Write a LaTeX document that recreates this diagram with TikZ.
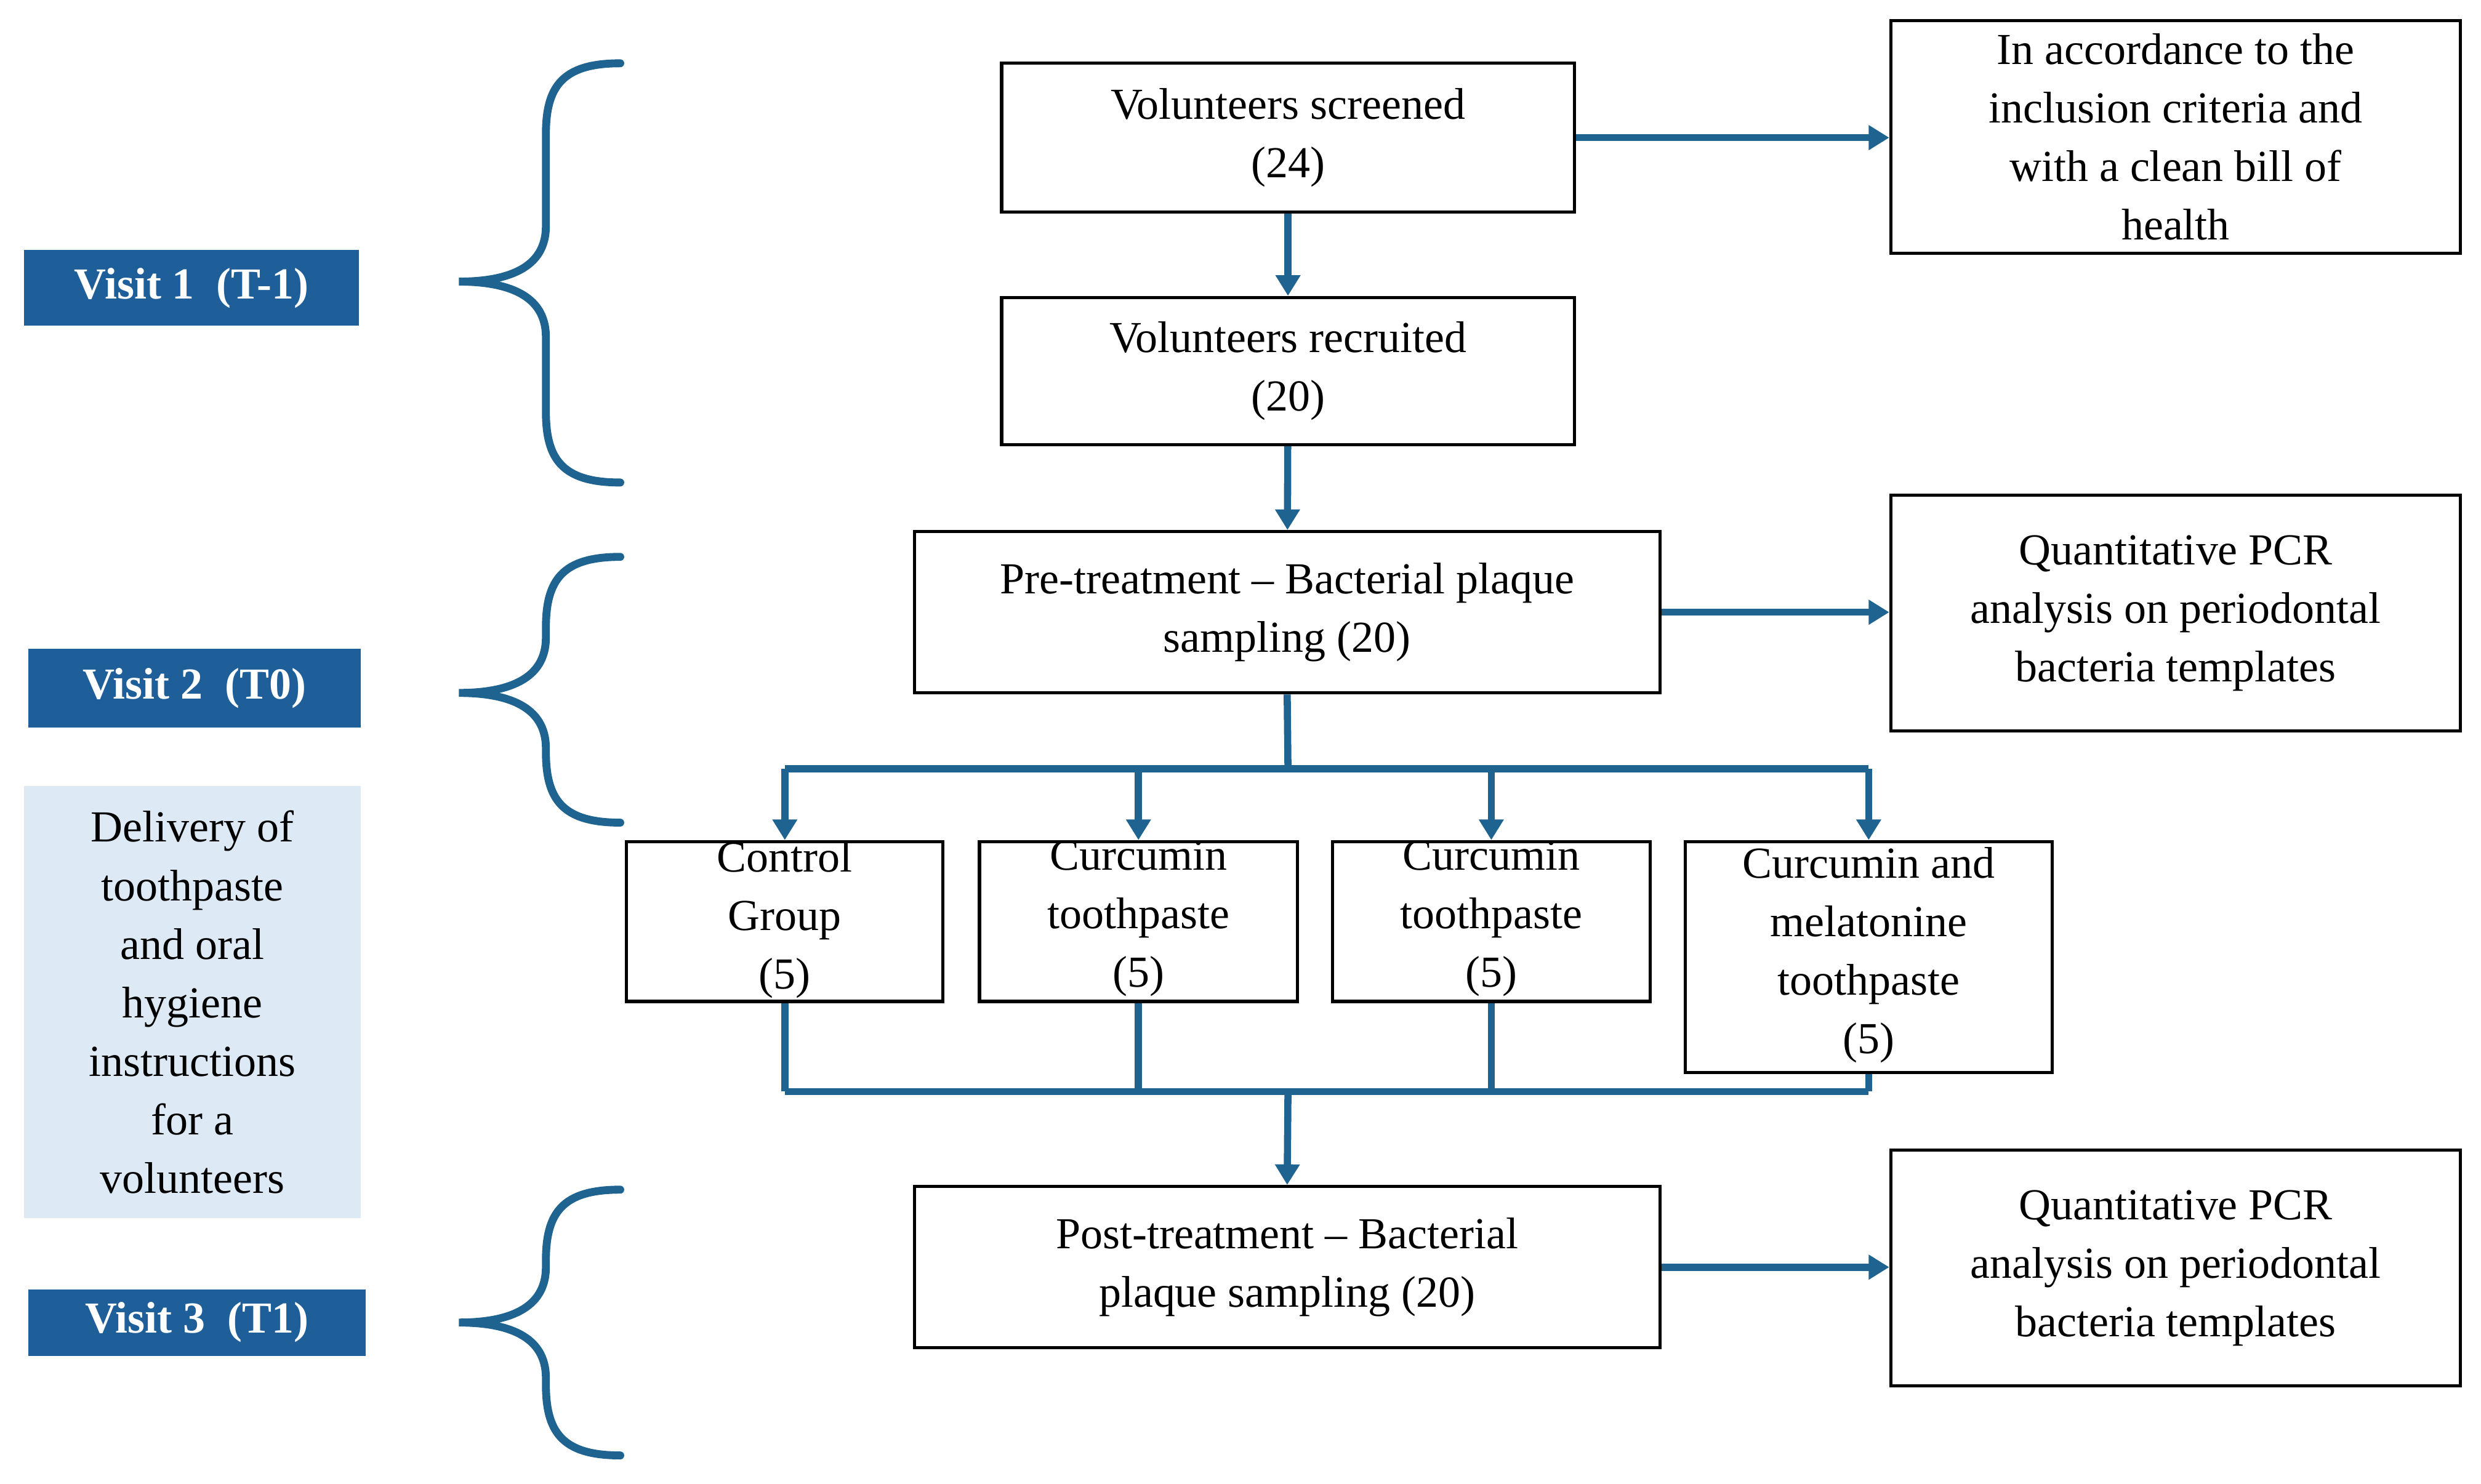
\documentclass[tikz,border=0pt]{standalone}
\usepackage{fontspec}
\setmainfont{Liberation Serif}
\usetikzlibrary{arrows.meta}
\definecolor{dblue}{HTML}{1F5F99}
\definecolor{lblue}{HTML}{DDE9F5}
\definecolor{lineb}{HTML}{1F6391}
\begin{document}
\begin{tikzpicture}[x=1pt,y=-1pt,
  txt/.style={font=\fontsize{28}{37}\selectfont, align=center},
  box/.style={draw=black, line width=2pt, inner sep=0pt},
  visit/.style={fill=dblue, text=white, font=\fontsize{28}{34}\selectfont\bfseries, inner sep=0pt},
  conn/.style={draw=lineb, line width=4.5pt},
  arr/.style={conn, -{Triangle[length=13pt,width=15pt]}},
  brace/.style={draw=lineb, line width=5pt, line cap=round}]
\useasboundingbox (0,0) rectangle (1568,938);
% boxes: center, size
\newcommand{\bx}[6]{\node[box, minimum width={#4-#2}, minimum height={#5-#3}] (#1) at ({(#2+#4)/2},{(#3+#5)/2}) {};
  \node[txt] at (#1.center) {#6};}
\bx{scr}{633}{40}{995}{134}{Volunteers screened\\(24)}
\bx{rec}{633}{188}{995}{281}{Volunteers recruited\\(20)}
\bx{pre}{578}{336}{1049}{438}{Pre-treatment -- Bacterial plaque\\sampling (20)}
\bx{r1}{1195}{13}{1555}{160}{In accordance to the\\inclusion criteria and\\with a clean bill of\\health}
\bx{r2}{1195}{313}{1555}{462}{Quantitative PCR\\analysis on periodontal\\bacteria templates}
\bx{post}{578}{750}{1049}{852}{Post-treatment -- Bacterial\\plaque sampling (20)}
\bx{r3}{1195}{727}{1555}{876}{Quantitative PCR\\analysis on periodontal\\bacteria templates}
\node[box, minimum width=200, minimum height=101] (g1) at (496,582.5) {};
\node[box, minimum width=201, minimum height=101] (g2) at (719.5,582.5) {};
\node[box, minimum width=201, minimum height=101] (g3) at (942.5,582.5) {};
\node[box, minimum width=232, minimum height=146] (g4) at (1181,605) {};
\node[txt, anchor=north] at (496,528) {Control\\Group\\(5)};
\node[txt, anchor=north] at (719.5,528) {Curcumin\\toothpaste\\(5)};
\node[txt, anchor=north] at (942.5,528) {Curcumin\\toothpaste\\(5)};
\node[txt, anchor=north] at (1181,532) {Curcumin and\\melatonine\\toothpaste\\(5)};
% visit labels
\node[visit, minimum width=212, minimum height=48] (v1) at (121,182) {Visit 1~ (T-1)};
\node[visit, minimum width=210, minimum height=50] (v2) at (123,435) {Visit 2~ (T0)};
\node[visit, minimum width=213, minimum height=42] (v3) at (124.5,836) {Visit 3~ (T1)};
\node[fill=lblue, minimum width=213, minimum height=273, inner sep=0pt] (del) at (121.5,633.5) {};
\node[txt] at (del.center) {Delivery of\\toothpaste\\and oral\\hygiene\\instructions\\for a\\volunteers};
% braces
\newcommand{\brc}[3]{\draw[brace] (392,#1) .. controls (355,#1) and (345,{#1+15}) .. (345,{#1+45})
  -- (345,{#2-35}) .. controls (345,{#2-8}) and (320,#2) .. (290,#2)
  .. controls (320,#2) and (345,{#2+8}) .. (345,{#2+35}) -- (345,{#3-45})
  .. controls (345,{#3-15}) and (355,#3) .. (392,#3);}
\brc{40}{178}{305}
\brc{352}{438}{520}
\brc{752}{836}{920}
% arrows
\draw[arr] (scr) -- (rec);
\draw[arr] (rec) -- (pre);
\draw[arr] (scr.east) -- (r1.west|-scr.east);
\draw[arr] (pre.east) -- (r2.west|-pre.east);
\draw[arr] (post.east) -- (r3.west|-post.east);
\coordinate (b0) at (814,486);
\coordinate (bl) at (496,486);
\coordinate (br) at (1181,486);
\draw[conn] (pre.south) -- (b0);
\draw[conn] (bl) -- (br);
\draw[arr] (bl) -- (g1.north);
\draw[arr] (719.5,486) -- (g2.north);
\draw[arr] (942.5,486) -- (g3.north);
\draw[arr] (br) -- (g4.north);
\coordinate (cl) at (496,690);
\coordinate (cr) at (1181,690);
\coordinate (c0) at (814,690);
\draw[conn] (g1.south) -- (cl);
\draw[conn] (g2.south) -- (719.5,690);
\draw[conn] (g3.south) -- (942.5,690);
\draw[conn] (g4.south) -- (cr);
\draw[conn] (cl) -- (cr);
\draw[arr] (c0) -- (post.north);
\end{tikzpicture}
\end{document}
